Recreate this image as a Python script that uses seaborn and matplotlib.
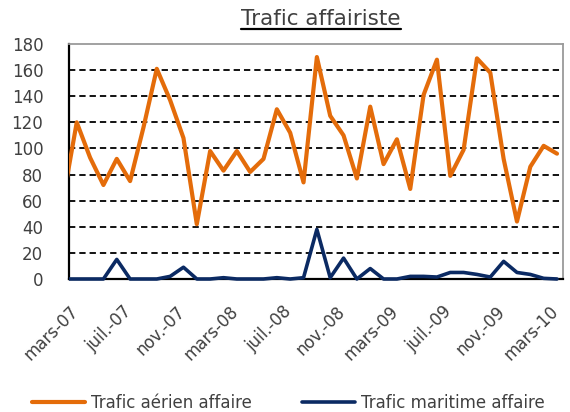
import numpy as np
import pandas as pd
import matplotlib
matplotlib.use('Agg')
import matplotlib.pyplot as plt
import matplotlib.transforms as mtransforms
from matplotlib.patches import Rectangle
from matplotlib.lines import Line2D
import seaborn as sns

# Monthly values, first point (févr.-07) partly hidden behind the axis
aerien = [62, 120, 93, 72, 92, 75, 116, 161, 137, 108, 42, 98, 83, 98, 82, 92,
          130, 112, 74, 170, 125, 110, 77, 132, 88, 107, 69, 141, 168, 79, 99,
          169, 158, 92, 44, 86, 102, 96]
maritime = [0, 0, 0, 0, 15, 0, 0, 0, 2, 9, 0, 0, 1, 0, 0, 0,
            1, 0, 1, 38, 1, 16, 0, 8, 0, 0, 2, 2, 1.5, 5, 5,
            3.5, 1.5, 13.5, 5, 3.5, 0.5, 0]
tick_labels = ['mars-07', 'juil.-07', 'nov.-07', 'mars-08', 'juil.-08',
               'nov.-08', 'mars-09', 'juil.-09', 'nov.-09', 'mars-10']
y_ticks = [0, 20, 40, 60, 80, 100, 120, 140, 160, 180]

ORANGE = '#E46C0A'
NAVY = '#0B2A63'
TEXT = '#404040'

sns.set_style('white')
plt.rcParams['font.family'] = ['DejaVu Sans']

df = pd.DataFrame({'mois': np.arange(len(aerien)),
                   'aerien': aerien, 'maritime': maritime})

fig = plt.figure(figsize=(5.7, 4.12), dpi=100)
ax = fig.add_axes([69 / 570, 1 - 279 / 412, (563 - 69) / 570, (279 - 44) / 412])

# dashed grid (not on 0 / 180)
for y in y_ticks[1:-1]:
    ax.axhline(y, color='black', linestyle=(0, (3.5, 2.2)), linewidth=1.3, zorder=1)

sns.lineplot(data=df, x='mois', y='aerien', ax=ax, color=ORANGE, linewidth=3.0,
             label='Trafic aérien affaire', legend=False, zorder=3)
sns.lineplot(data=df, x='mois', y='maritime', ax=ax, color=NAVY, linewidth=2.6,
             label='Trafic maritime affaire', legend=False, zorder=4)

# let lines sit on the bottom axis without being cut in half
clip = Rectangle((0, -0.03), 1, 1.06, transform=ax.transAxes)
for ln in ax.get_lines()[-2:]:
    ln.set_clip_path(clip)

x0 = 0.42
ax.set_xlim(x0, 37.45)
ax.set_ylim(0, 180)
ax.set_xticks([x0 + 4 * i for i in range(len(tick_labels))])
ax.set_xticklabels(tick_labels, rotation=45, ha='right', va='top',
                   rotation_mode='anchor', fontsize=12, color=TEXT)
offset = mtransforms.ScaledTranslation(5 / 100, 0, fig.dpi_scale_trans)
for lab in ax.get_xticklabels():
    lab.set_transform(lab.get_transform() + offset)
ax.set_yticks(y_ticks)
ax.set_yticklabels([str(v) for v in y_ticks], fontsize=12, color=TEXT)
ax.set_xlabel('')
ax.set_ylabel('')

ax.tick_params(axis='x', direction='out', length=4, width=1.3, color='black', pad=13)
ax.tick_params(axis='y', direction='out', length=4.5, width=1.3, color='black', pad=14)

for side in ['left', 'bottom']:
    ax.spines[side].set_color('black')
    ax.spines[side].set_linewidth(1.6)
for side in ['top', 'right']:
    ax.spines[side].set_color('#9a9a9a')
    ax.spines[side].set_linewidth(1.3)

# title, underlined
title = fig.text(321 / 570, 1 - 19 / 412, 'Trafic affairiste', ha='center', va='center',
                 fontsize=15.5, color=TEXT)
fig.canvas.draw()
bb = title.get_window_extent()
fig.add_artist(Line2D([bb.x0 / 570, bb.x1 / 570], [(412 - 29) / 412] * 2,
                      color='black', linewidth=1.6))

handles, labels = ax.get_legend_handles_labels()
fig.legend(handles, labels, loc='center', bbox_to_anchor=(288 / 570, 1 - 403 / 412),
           ncol=2, frameon=False, fontsize=12, handlelength=3.2, handletextpad=0.35,
           columnspacing=3.0, labelcolor=TEXT)

fig.savefig('out.png', dpi=100)
